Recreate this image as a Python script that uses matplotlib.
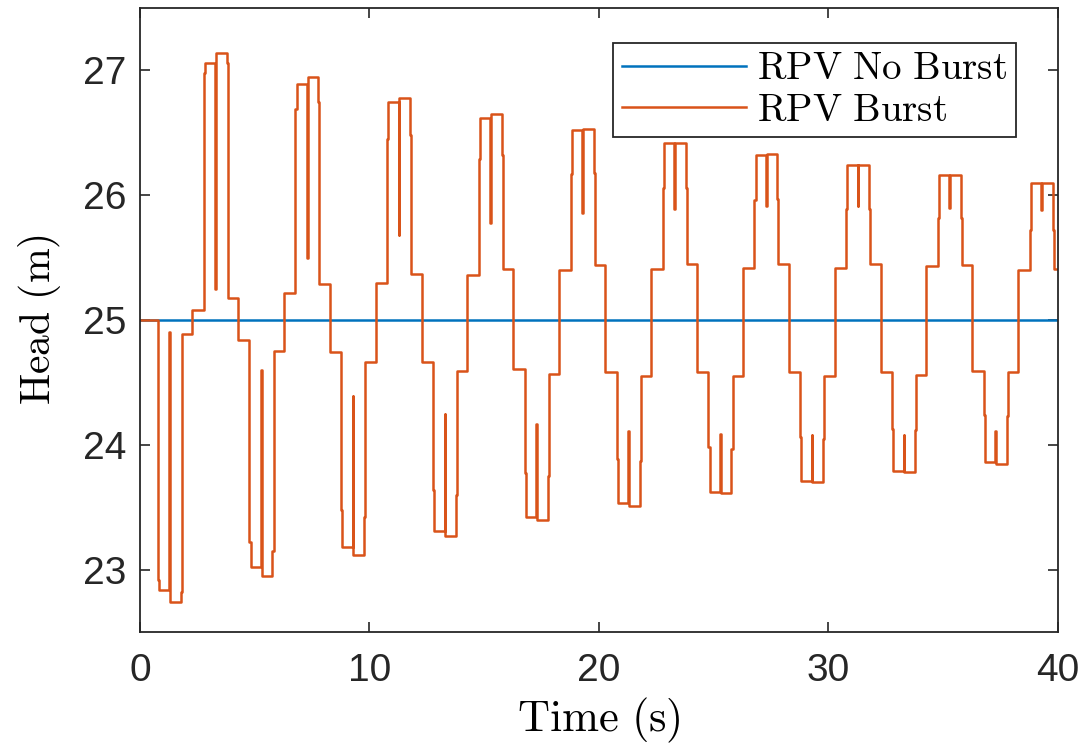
import numpy as np
import matplotlib
matplotlib.use('Agg')
import matplotlib.pyplot as plt

plt.rcParams['mathtext.fontset'] = 'cm'
plt.rcParams['font.family'] = ['Liberation Sans', 'DejaVu Sans']

# Уровень без разрыва
time_no_burst = [0.0, 40.0]
head_no_burst = [25.0, 25.0]

# Начало каждого цикла (с), каждая ступень длится 0.5 с
cycle_start = [0.77, 4.77, 8.77, 12.77, 16.77, 20.77, 24.77, 28.77, 32.77, 36.77]
step_len = 0.5

# Уровни ступеней в каждом цикле (м)
low1 = [22.84, 23.02, 23.18, 23.31, 23.42, 23.53, 23.62, 23.71, 23.79, 23.86]
low_spike = [24.90, 24.60, 24.39, 24.25, 24.17, 24.11, 24.09, 24.08, 24.08, 24.11]
low2 = [22.74, 22.95, 23.12, 23.27, 23.40, 23.51, 23.61, 23.70, 23.78, 23.85]
mid_up1 = [24.89, 24.75, 24.66, 24.59, 24.57, 24.55, 24.55, 24.55, 24.56, 24.58]
mid_up2 = [25.08, 25.22, 25.30, 25.36, 25.40, 25.41, 25.42, 25.42, 25.43, 25.40]
high1 = [27.06, 26.89, 26.75, 26.62, 26.52, 26.42, 26.32, 26.24, 26.16, 26.10]
high_spike = [25.25, 25.50, 25.68, 25.78, 25.86, 25.89, 25.91, 25.91, 25.90, 25.88]
high2 = [27.14, 26.95, 26.78, 26.65, 26.53, 26.42, 26.33, 26.24, 26.16, 26.10]
mid_dn1 = [25.18, 25.29, 25.37, 25.41, 25.44, 25.45, 25.45, 25.45, 25.44, 25.41]
mid_dn2 = [24.84, 24.74, 24.66, 24.61, 24.58, 24.58, 24.58, 24.58, 24.59, 24.59]
# промежуточная ступенька на больших фронтах
edge_step = [0.08, 0.20, 0.30, 0.33, 0.35, 0.36, 0.36, 0.35, 0.34, 0.38]


def build_burst():
    t, y = [0.0], [25.0]
    prev = 25.0
    for i, t0 in enumerate(cycle_start):
        levels = [low1[i], low2[i], mid_up1[i], mid_up2[i],
                  high1[i], high2[i], mid_dn1[i], mid_dn2[i]]
        for k, lev in enumerate(levels):
            ts = t0 + k * step_len
            t.append(ts)
            y.append(prev)
            if k in (0, 2, 4, 6):
                # ступенька на фронте
                if k == 0:
                    inter = lev + edge_step[i]
                elif k == 2:
                    inter = prev + edge_step[i]
                elif k == 4:
                    inter = lev - edge_step[i]
                else:
                    inter = prev - edge_step[i]
                t += [ts, ts + 0.05, ts + 0.05]
                y += [inter, inter]
            elif k in (1, 5):
                # пик
                sp = low_spike[i] if k == 1 else high_spike[i]
                t += [ts, ts + 0.03, ts + 0.03]
                y += [sp, sp]
            else:
                t.append(ts)
            y.append(lev)
            prev = lev
    t.append(cycle_start[-1] + 8 * step_len)
    y.append(prev)
    return np.array(t), np.array(y)


time_burst, head_burst = build_burst()

fig = plt.figure(figsize=(10.86, 7.45), dpi=100)
ax = fig.add_axes([0.1289, 0.1517, 0.8453, 0.8376])

ax.plot(time_no_burst, head_no_burst, color='#0072BD', lw=1.8,
        label=r'$\mathrm{RPV\ No\ Burst}$')
ax.plot(time_burst, head_burst, color='#D95319', lw=1.8,
        label=r'$\mathrm{RPV\ Burst}$')

ax.set_xlim(0, 40)
ax.set_ylim(22.5, 27.5)
ax.set_xticks([0, 10, 20, 30, 40])
ax.set_yticks([23, 24, 25, 26, 27])
ax.tick_params(direction='in', length=7, width=1.2, top=True, right=True,
               labelsize=28, colors='#262626', pad=10)
ax.tick_params(axis='x', pad=15)
for s in ax.spines.values():
    s.set_linewidth(1.3)
    s.set_color('#262626')

ax.set_xlabel(r'$\mathrm{Time\ (s)}$', fontsize=32, labelpad=5)
ax.set_ylabel(r'$\mathrm{Head\ (m)}$', fontsize=30, labelpad=14)

leg = ax.legend(loc='upper right', bbox_to_anchor=(0.954, 0.944),
                borderaxespad=0, fontsize=28, fancybox=False,
                edgecolor='#262626', framealpha=1, handlelength=3.2,
                handletextpad=0.28, borderpad=0.22, labelspacing=0.13)
leg.get_frame().set_linewidth(1.3)

fig.savefig('out.png', dpi=100)
